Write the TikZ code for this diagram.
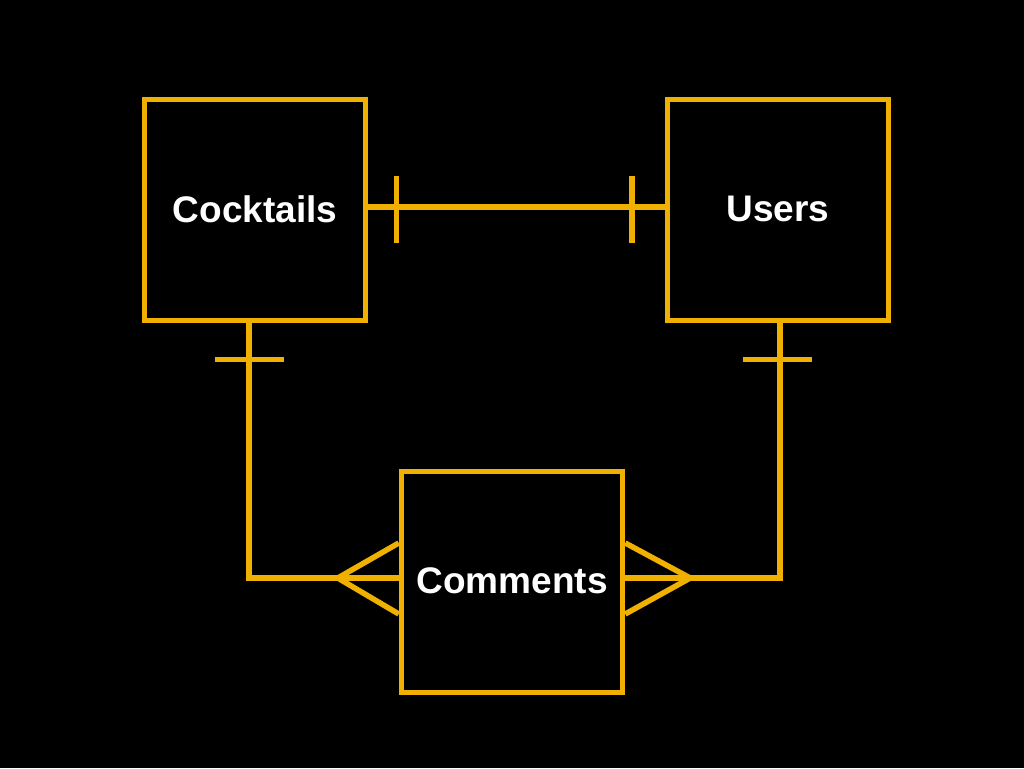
\documentclass[tikz,border=0pt]{standalone}
\usepackage{fontspec}
\setmainfont{Liberation Sans}
\usetikzlibrary{calc}
\definecolor{amber}{RGB}{240,176,0}
\tikzset{
  entity/.style={draw=amber, line width=5.5pt, minimum width=221pt, minimum height=221pt,
    inner sep=0pt, text=white, font=\fontsize{37}{40}\selectfont\bfseries},
  rel/.style={draw=amber, line width=5.5pt}
}
\begin{document}
\begin{tikzpicture}[x=1pt,y=-1pt]
\fill[black] (0,0) rectangle (1024,768);
\useasboundingbox (0,0) rectangle (1024,768);
\node[entity] (C) at (255,210) {\raisebox{2pt}{Cocktails}};
\node[entity] (U) at (778,210) {\raisebox{2pt}{Users}};
\node[entity] (M) at (512,582) {\raisebox{2pt}{Comments}};
% Cocktails - Users
\coordinate (ce) at ($(C.east)+(0,-3)$);
\coordinate (uw) at ($(U.west)+(0,-3)$);
\draw[rel] (ce) -- (uw);
\draw[rel] ($(ce)+(28,-31)$) -- ($(ce)+(28,36)$);
\draw[rel] ($(uw)+(-33,-31)$) -- ($(uw)+(-33,36)$);
% Cocktails - Comments
\coordinate (cs) at ($(C.south)+(-6,0)$);
\coordinate (mw) at ($(M.west)+(0,-4)$);
\draw[rel] (cs) |- (mw);
\draw[rel] ($(cs)+(-34,36)$) -- ($(cs)+(35,36)$);
\coordinate (ap1) at ($(mw)+(-61,0)$);
\draw[rel] ($(M.west)+(0,-39)$) -- (ap1) -- ($(M.west)+(0,32)$);
% Users - Comments
\coordinate (us) at ($(U.south)+(2,0)$);
\coordinate (me) at ($(M.east)+(0,-4)$);
\draw[rel] (us) |- (me);
\draw[rel] ($(us)+(-37,36)$) -- ($(us)+(32,36)$);
\coordinate (ap2) at ($(me)+(65,0)$);
\draw[rel] ($(M.east)+(0,-39)$) -- (ap2) -- ($(M.east)+(0,32)$);
\end{tikzpicture}
\end{document}
